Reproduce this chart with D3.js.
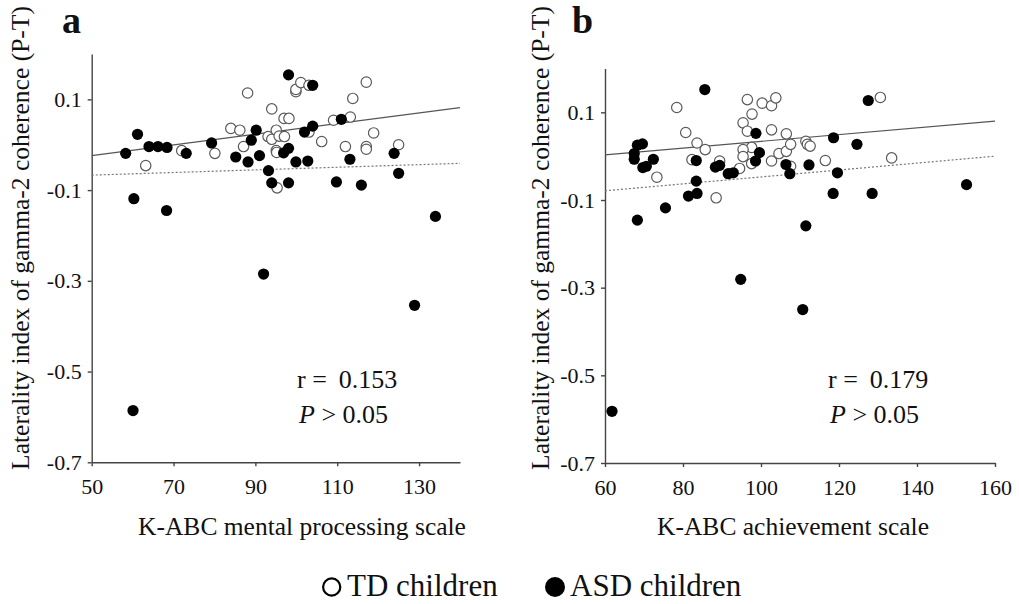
<!DOCTYPE html>
<html>
<head>
<meta charset="utf-8">
<title>Laterality index of gamma-2 coherence vs K-ABC</title>
<script src="https://cdn.jsdelivr.net/npm/d3@7"></script>
<style>
  body { margin: 0; background: #fff; }
  svg { font-family: "Liberation Serif", "Times New Roman", serif; fill: #111; }
  .axis path, .axis line { stroke: #444; stroke-width: 1.4; }
  .axis text { font-size: 22px; fill: #111; font-family: "Liberation Serif", "Times New Roman", serif; }
  .label { font-size: 25.5px; }
  .stat { font-size: 26px; }
</style>
</head>
<body>
<svg id="chart" width="1019" height="604"></svg>
<script>
// data: [K-ABC score, laterality index]
var tdMental = [[63.2,-0.046],[72.0,-0.013],[80.1,-0.019],[84.0,0.036],[86.2,0.032],[87.1,-0.004],[88.1,0.114],
  [94.0,0.079],[93.1,0.018],[94.0,0.012],[95.1,0.032],[95.8,0.019],[97.1,0.018],[95.1,-0.013],[97.0,0.058],
  [98.2,0.058],[99.9,0.117],[99.9,0.122],[101.1,0.137],[103.1,0.131],[103.1,0.028],[106.2,0.007],[109.1,0.054],
  [113.2,0.061],[113.8,0.102],[112.0,-0.004],[117.1,0.138],[117.1,-0.004],[117.1,-0.010],[118.9,0.026],
  [125.0,0.000],[95.3,-0.095],[95.2,-0.017]];
var asdMental = [[58.3,-0.019],[61.2,0.023],[64.0,-0.004],[66.2,-0.004],[68.4,-0.006],[73.1,-0.019],[79.3,0.004],
  [85.2,-0.027],[88.2,-0.038],[89.0,0.010],[90.2,0.032],[91.0,-0.024],[93.2,-0.057],[94.0,-0.084],[96.9,-0.018],
  [98.1,-0.008],[98.1,-0.084],[98.1,0.154],[99.9,-0.038],[102.0,0.028],[102.8,-0.036],[104.0,0.041],[104.0,0.131],
  [109.8,-0.082],[111.0,0.056],[113.1,-0.032],[115.9,-0.089],[123.9,-0.019],[125.0,-0.063],[60.3,-0.119],
  [68.3,-0.145],[134.0,-0.158],[92.0,-0.285],[128.9,-0.354],[60.1,-0.586]];
var tdAchieve = [[78.4,0.111],[80.7,0.054],[83.6,0.030],[85.7,0.015],[82.3,-0.008],[89.4,-0.011],[73.3,-0.048],
  [88.5,-0.095],[96.5,0.129],[100.3,0.121],[102.7,0.115],[103.8,0.133],[97.7,0.096],[95.4,0.076],[96.5,0.057],
  [102.7,0.060],[106.5,0.051],[97.6,0.020],[95.4,0.015],[95.4,-0.001],[97.6,-0.017],[102.7,-0.011],[104.6,0.006],
  [106.5,0.011],[107.6,0.027],[107.6,-0.023],[94.5,-0.028],[111.5,0.034],[111.9,0.027],[112.6,0.023],
  [116.5,-0.010],[130.6,0.134],[133.5,-0.004]];
var asdAchieve = [[85.6,0.152],[127.5,0.127],[98.7,0.052],[118.6,0.042],[124.6,0.027],[68.3,0.025],[69.6,0.028],
  [67.5,0.006],[67.5,-0.007],[72.4,-0.007],[69.7,-0.026],[70.6,-0.023],[83.4,-0.010],[83.4,-0.057],[81.4,-0.091],
  [83.6,-0.085],[88.3,-0.025],[89.4,-0.021],[91.6,-0.040],[92.9,-0.038],[98.6,-0.011],[99.6,0.008],[106.4,-0.019],
  [107.4,-0.040],[112.3,-0.020],[119.6,-0.038],[118.5,-0.085],[128.5,-0.085],[152.7,-0.065],[68.3,-0.146],
  [75.5,-0.118],[111.5,-0.159],[94.8,-0.281],[110.7,-0.350],[61.8,-0.582]];

// regression lines (end points)
var fitSolidMental = [[50,-0.024],[140,0.082]];
var fitDottedMental = [[50,-0.067],[140,-0.041]];
var fitSolidAchieve = [[60,0.003],[160,0.080]];
var fitDottedAchieve = [[60,-0.079],[160,0.0]];

// ticks
var yDomain = [-0.7, 0.2];
var yTicks = [-0.7, -0.5, -0.3, -0.1, 0.1];
var xTicksMental = [50, 70, 90, 110, 130];
var xTicksAchieve = [60, 80, 100, 120, 140, 160];

var panels = [
  {letter: "a", td: tdMental, asd: asdMental, solid: fitSolidMental, dotted: fitDottedMental,
   xDomain: [50, 140], xTicks: xTicksMental, xRange: [91.7, 460], yRange: [462.3, 54],
   xLabel: "K-ABC mental processing scale", xLabelX: 302, r: "0.153",
   yLabelX: 29, letterX: 62, statX: 297},
  {letter: "b", td: tdAchieve, asd: asdAchieve, solid: fitSolidAchieve, dotted: fitDottedAchieve,
   xDomain: [60, 160], xTicks: xTicksAchieve, xRange: [605, 995], yRange: [463, 68.5],
   xLabel: "K-ABC achievement scale", xLabelX: 793, r: "0.179",
   yLabelX: 549, letterX: 572, statX: 828}
];

var svg = d3.select("#chart");

panels.forEach(function(p) {
  var x = d3.scaleLinear().domain(p.xDomain).range(p.xRange);
  var y = d3.scaleLinear().domain(yDomain).range(p.yRange);
  var g = svg.append("g");

  // axes
  g.append("g")
    .attr("class", "axis")
    .attr("transform", "translate(0," + p.yRange[0] + ")")
    .call(d3.axisBottom(x)
      .tickValues(p.xTicks)
      .tickSizeInner(4)
      .tickSizeOuter(0)
      .tickPadding(12));
  g.append("g")
    .attr("class", "axis")
    .attr("transform", "translate(" + p.xRange[0] + ",0)")
    .call(d3.axisLeft(y)
      .tickValues(yTicks)
      .tickFormat(function(d) { return d.toFixed(1); })
      .tickSizeInner(4)
      .tickSizeOuter(0)
      .tickPadding(6));

  // regression lines
  var line = d3.line()
    .x(function(d) { return x(d[0]); })
    .y(function(d) { return y(d[1]); });
  g.append("path")
    .attr("d", line(p.dotted))
    .attr("fill", "none")
    .attr("stroke", "#777")
    .attr("stroke-width", 1.2)
    .attr("stroke-dasharray", "2,2");
  g.append("path")
    .attr("d", line(p.solid))
    .attr("fill", "none")
    .attr("stroke", "#555")
    .attr("stroke-width", 1.2);

  // points
  g.selectAll(".td")
    .data(p.td)
    .enter().append("circle")
      .attr("class", "td")
      .attr("cx", function(d) { return x(d[0]); })
      .attr("cy", function(d) { return y(d[1]); })
      .attr("r", 5.2)
      .attr("fill", "#fff")
      .attr("stroke", "#5a5a5a")
      .attr("stroke-width", 1.2);
  g.selectAll(".asd")
    .data(p.asd)
    .enter().append("circle")
      .attr("class", "asd")
      .attr("cx", function(d) { return x(d[0]); })
      .attr("cy", function(d) { return y(d[1]); })
      .attr("r", 5.6)
      .attr("fill", "#000");

  // labels
  g.append("text")
    .attr("class", "label")
    .attr("transform", "translate(" + p.yLabelX + ",238) rotate(-90)")
    .attr("text-anchor", "middle")
    .text("Laterality index of gamma-2 coherence (P-T)");
  g.append("text")
    .attr("class", "label")
    .attr("x", p.xLabelX)
    .attr("y", 535)
    .attr("text-anchor", "middle")
    .text(p.xLabel);
  g.append("text")
    .attr("x", p.letterX)
    .attr("y", 33)
    .attr("font-size", 38)
    .attr("font-weight", "bold")
    .text(p.letter);

  // statistics
  var r = g.append("text")
    .attr("class", "stat")
    .attr("x", p.statX)
    .attr("y", 388);
  r.append("tspan").text("r =");
  r.append("tspan").attr("dx", 12).text(p.r);
  var pv = g.append("text")
    .attr("class", "stat")
    .attr("x", p.statX + 2)
    .attr("y", 423);
  pv.append("tspan").attr("font-style", "italic").text("P");
  pv.append("tspan").text(" > 0.05");
});

// legend
var legend = svg.append("g");
legend.append("circle")
  .attr("cx", 331.7).attr("cy", 587).attr("r", 8.6)
  .attr("fill", "#fff").attr("stroke", "#000").attr("stroke-width", 2.2);
legend.append("text")
  .attr("x", 347).attr("y", 596)
  .attr("font-size", 31)
  .text("TD children");
legend.append("circle")
  .attr("cx", 555).attr("cy", 587).attr("r", 10)
  .attr("fill", "#000");
legend.append("text")
  .attr("x", 570).attr("y", 596)
  .attr("font-size", 31)
  .text("ASD children");
</script>
</body>
</html>
